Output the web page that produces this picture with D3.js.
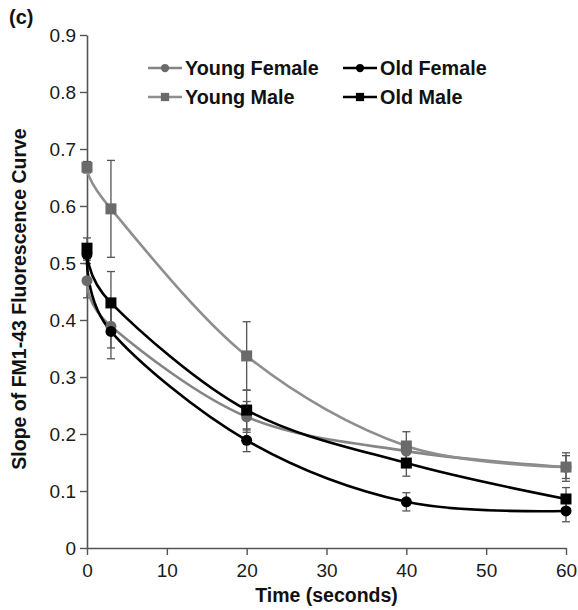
<!DOCTYPE html>
<html>
<head>
<meta charset="utf-8">
<script src="https://cdn.jsdelivr.net/npm/d3@7"></script>
<style>
  body { margin: 0; background: #fff; }
  svg { display: block; font-family: "Liberation Sans", Arial, sans-serif; }
</style>
</head>
<body>
<svg id="chart" width="578" height="610"></svg>
<script>
// Time points (seconds)
const times = [0, 3, 20, 40, 60];

// Mean slope of the FM1-43 fluorescence curve per group
const youngFemale = [0.469, 0.389, 0.230, 0.170, 0.142];
const oldFemale   = [0.515, 0.380, 0.189, 0.081, 0.065];
const youngMale   = [0.668, 0.595, 0.337, 0.179, 0.142];
const oldMale     = [0.526, 0.430, 0.242, 0.149, 0.086];

// Standard errors
const youngFemaleErr = [0.030, 0.038, 0.027, 0.015, 0.020];
const oldFemaleErr   = [0.010, 0.048, 0.020, 0.016, 0.019];
const youngMaleErr   = [0.010, 0.085, 0.060, 0.025, 0.025];
const oldMaleErr     = [0.018, 0.055, 0.035, 0.023, 0.020];

const xTicks = [0, 10, 20, 30, 40, 50, 60];
const yTicks = [0, 0.1, 0.2, 0.3, 0.4, 0.5, 0.6, 0.7, 0.8, 0.9];

const series = [
  { name: "Young Female", values: youngFemale, err: youngFemaleErr, line: "#858585", fill: "#6a6a6a", shape: "circle" },
  { name: "Old Female",   values: oldFemale,   err: oldFemaleErr,   line: "#000000", fill: "#000000", shape: "circle" },
  { name: "Young Male",   values: youngMale,   err: youngMaleErr,   line: "#8e8e8e", fill: "#6a6a6a", shape: "square" },
  { name: "Old Male",     values: oldMale,     err: oldMaleErr,     line: "#000000", fill: "#000000", shape: "square" }
];

const svg = d3.select("#chart");
const x = d3.scaleLinear().domain([0, 60]).range([87, 566]);
const y = d3.scaleLinear().domain([0, 0.9]).range([548, 35]);

const axisColor = "#555";

// Axes
const gx = svg.append("g").attr("transform", `translate(0,${y(0)})`)
  .call(d3.axisBottom(x).tickValues(xTicks).tickSize(7).tickSizeOuter(0).tickPadding(9).tickFormat(d3.format("d")));
const gy = svg.append("g").attr("transform", `translate(${x(0)},0)`)
  .call(d3.axisLeft(y).tickValues(yTicks).tickSize(7).tickSizeOuter(0).tickPadding(4)
    .tickFormat(d => d === 0 ? "0" : d3.format(".1f")(d)));
[gx, gy].forEach(g => {
  g.select(".domain").attr("stroke", axisColor).attr("stroke-width", 1.6);
  g.selectAll(".tick line").attr("stroke", axisColor).attr("stroke-width", 1.4);
  g.selectAll(".tick text").attr("fill", "#1a1a1a").style("font-size", "19px");
});

const line = d3.line()
  .x((d, i) => x(times[i]))
  .y(d => y(d))
  .curve(d3.curveCatmullRom.alpha(0));

// Error bars
series.forEach(s => {
  const g = svg.append("g");
  s.values.forEach((v, i) => {
    const cx = x(times[i]);
    const lo = y(v - s.err[i]), hi = y(v + s.err[i]);
    g.append("line").attr("x1", cx).attr("x2", cx).attr("y1", lo).attr("y2", hi)
      .attr("stroke", "#555").attr("stroke-width", 1.3);
    [lo, hi].forEach(yy => g.append("line")
      .attr("x1", cx - 4).attr("x2", cx + 4).attr("y1", yy).attr("y2", yy)
      .attr("stroke", "#555").attr("stroke-width", 1.3));
  });
});

// Curves and markers
function marker(g, shape, cx, cy, fill, scale) {
  if (shape === "circle") {
    g.append("circle").attr("cx", cx).attr("cy", cy).attr("r", 5.5 * scale).attr("fill", fill);
  } else {
    const h = 5.5 * scale;
    g.append("rect").attr("x", cx - h).attr("y", cy - h).attr("width", 2 * h).attr("height", 2 * h).attr("fill", fill);
  }
}

series.forEach(s => {
  svg.append("path").datum(s.values).attr("d", line)
    .attr("fill", "none").attr("stroke", s.line).attr("stroke-width", 2.6);
});
series.forEach(s => {
  const g = svg.append("g");
  s.values.forEach((v, i) => marker(g, s.shape, x(times[i]), y(v), s.fill, 1));
});

// Legend
const legendPos = [[148, 68], [343, 68], [148, 97], [343, 97]];
series.forEach((s, i) => {
  const [lx, ly] = legendPos[i];
  const g = svg.append("g").attr("transform", `translate(${lx},${ly})`);
  g.append("line").attr("x1", 0).attr("x2", 34).attr("y1", 0).attr("y2", 0)
    .attr("stroke", s.line).attr("stroke-width", 2.6);
  marker(g, s.shape, 17, 0, s.fill, 0.75);
  g.append("text").attr("x", 37).attr("y", 0).attr("dy", "0.35em")
    .attr("font-weight", "bold").attr("font-size", 19.8).attr("fill", "#111").text(s.name);
});

// Titles
svg.append("text").attr("x", 9).attr("y", 24).attr("font-weight", "bold")
  .attr("font-size", 20).attr("fill", "#111").text("(c)");
svg.append("text").attr("x", x(30)).attr("y", 602).attr("text-anchor", "middle")
  .attr("font-weight", "bold").attr("font-size", 19.5).attr("fill", "#111").text("Time (seconds)");
svg.append("text").attr("transform", "translate(26,299) rotate(-90)").attr("text-anchor", "middle")
  .attr("font-weight", "bold").attr("font-size", 19.5).attr("fill", "#111")
  .text("Slope of FM1-43 Fluorescence Curve");
</script>
</body>
</html>
